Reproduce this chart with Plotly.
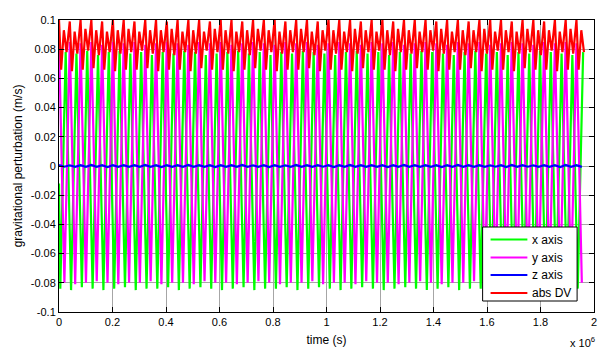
import plotly.graph_objects as go

# Orbital period of the perturbation signal (s)
PERIOD_S = 40300.0

# Per-cycle extrema of each component (m/s)
x_start = -0.012
x_min = [-0.084, -0.085, -0.083, -0.084, -0.085, -0.084, -0.083, -0.085, -0.084, -0.084,
         -0.083, -0.085, -0.084, -0.083, -0.084, -0.085, -0.084, -0.083, -0.085, -0.084,
         -0.084, -0.083, -0.085, -0.084, -0.083, -0.084, -0.085, -0.084, -0.083, -0.084,
         -0.085, -0.084, -0.083, -0.084, -0.085, -0.084, -0.083, -0.085, -0.084, -0.084,
         -0.083, -0.085, -0.084, -0.083, -0.084, -0.085, -0.084, -0.083, -0.084]
x_max = [0.078, 0.077, 0.079, 0.076, 0.078, 0.079, 0.077, 0.078, 0.076, 0.078,
         0.077, 0.079, 0.078, 0.076, 0.077, 0.078, 0.079, 0.077, 0.078, 0.076,
         0.078, 0.077, 0.079, 0.078, 0.077, 0.076, 0.078, 0.079, 0.077, 0.078,
         0.076, 0.078, 0.077, 0.079, 0.078, 0.077, 0.076, 0.078, 0.079, 0.077,
         0.078, 0.076, 0.078, 0.077, 0.079, 0.078, 0.077, 0.076, 0.078]

y_max = [0.086, 0.085, 0.084, 0.085, 0.083, 0.085, 0.084, 0.085, 0.083, 0.084,
         0.085, 0.084, 0.083, 0.085, 0.084, 0.085, 0.083, 0.084, 0.085, 0.084,
         0.083, 0.085, 0.084, 0.085, 0.083, 0.084, 0.085, 0.084, 0.083, 0.085,
         0.084, 0.085, 0.083, 0.084, 0.085, 0.084, 0.083, 0.085, 0.084, 0.085,
         0.083, 0.084, 0.085, 0.084, 0.083, 0.085, 0.084, 0.085, 0.084]
y_min = [-0.080, -0.081, -0.080, -0.079, -0.080, -0.081, -0.080, -0.080, -0.079, -0.081,
         -0.080, -0.080, -0.081, -0.079, -0.080, -0.080, -0.081, -0.080, -0.079, -0.080,
         -0.081, -0.080, -0.080, -0.079, -0.081, -0.080, -0.080, -0.081, -0.079, -0.080,
         -0.080, -0.081, -0.080, -0.079, -0.080, -0.081, -0.080, -0.080, -0.079, -0.081,
         -0.080, -0.080, -0.081, -0.079, -0.080, -0.080, -0.081, -0.080, -0.080]

z_hi = [0.0006, 0.0005, 0.0006, 0.0007, 0.0005, 0.0006, 0.0006, 0.0005, 0.0007, 0.0006,
        0.0005, 0.0006, 0.0007, 0.0006, 0.0005, 0.0006, 0.0006, 0.0007, 0.0005, 0.0006,
        0.0006, 0.0005, 0.0007, 0.0006, 0.0006, 0.0005, 0.0006, 0.0007, 0.0006, 0.0005,
        0.0006, 0.0006, 0.0007, 0.0005, 0.0006, 0.0006, 0.0005, 0.0007, 0.0006, 0.0006,
        0.0005, 0.0006, 0.0007, 0.0006, 0.0005, 0.0006, 0.0006, 0.0007, 0.0006]
z_lo = [-0.0005, -0.0006, -0.0005, -0.0006, -0.0007, -0.0005, -0.0006, -0.0006, -0.0005, -0.0007,
        -0.0006, -0.0005, -0.0006, -0.0006, -0.0007, -0.0005, -0.0006, -0.0005, -0.0006, -0.0007,
        -0.0006, -0.0005, -0.0006, -0.0006, -0.0005, -0.0007, -0.0006, -0.0005, -0.0006, -0.0006,
        -0.0007, -0.0005, -0.0006, -0.0006, -0.0005, -0.0007, -0.0006, -0.0005, -0.0006, -0.0006,
        -0.0005, -0.0007, -0.0006, -0.0005, -0.0006, -0.0006, -0.0007, -0.0005, -0.0006]

dv_peak = [0.100, 0.099, 0.100, 0.100, 0.099, 0.100, 0.100, 0.099, 0.100, 0.100,
           0.099, 0.100, 0.100, 0.100, 0.099, 0.100, 0.100, 0.099, 0.100, 0.100,
           0.100, 0.099, 0.100, 0.100, 0.099, 0.100, 0.100, 0.100, 0.099, 0.100,
           0.100, 0.099, 0.100, 0.100, 0.100, 0.099, 0.100, 0.100, 0.099, 0.100,
           0.100, 0.100, 0.099, 0.100, 0.100, 0.099, 0.100, 0.100, 0.100]
dv_low1 = [0.066, 0.065, 0.066, 0.067, 0.066, 0.065, 0.066, 0.066, 0.067, 0.065,
           0.066, 0.066, 0.065, 0.067, 0.066, 0.066, 0.065, 0.066, 0.067, 0.066,
           0.065, 0.066, 0.066, 0.067, 0.065, 0.066, 0.066, 0.065, 0.067, 0.066,
           0.066, 0.065, 0.066, 0.067, 0.066, 0.065, 0.066, 0.066, 0.067, 0.065,
           0.066, 0.066, 0.065, 0.067, 0.066, 0.066, 0.065, 0.066, 0.066]
dv_sub = [0.093, 0.092, 0.094, 0.093, 0.092, 0.093, 0.094, 0.092, 0.093, 0.093,
          0.094, 0.092, 0.093, 0.092, 0.094, 0.093, 0.092, 0.093, 0.094, 0.093,
          0.092, 0.093, 0.094, 0.092, 0.093, 0.093, 0.092, 0.094, 0.093, 0.092,
          0.093, 0.094, 0.093, 0.092, 0.093, 0.094, 0.092, 0.093, 0.093, 0.094,
          0.092, 0.093, 0.092, 0.094, 0.093, 0.093, 0.092, 0.094, 0.093]
dv_low2 = [0.078, 0.077, 0.079, 0.076, 0.078, 0.077, 0.078, 0.079, 0.077, 0.078,
           0.076, 0.078, 0.077, 0.079, 0.078, 0.077, 0.078, 0.076, 0.079, 0.078,
           0.077, 0.078, 0.078, 0.076, 0.079, 0.077, 0.078, 0.077, 0.078, 0.079,
           0.076, 0.078, 0.077, 0.078, 0.079, 0.077, 0.078, 0.076, 0.078, 0.077,
           0.079, 0.078, 0.077, 0.078, 0.076, 0.079, 0.078, 0.077, 0.078]

x_tick_vals = [0, 2e5, 4e5, 6e5, 8e5, 1e6, 1.2e6, 1.4e6, 1.6e6, 1.8e6, 2e6]
x_tick_text = ["0", "0.2", "0.4", "0.6", "0.8", "1", "1.2", "1.4", "1.6", "1.8", "2"]
y_tick_vals = [-0.1, -0.08, -0.06, -0.04, -0.02, 0, 0.02, 0.04, 0.06, 0.08, 0.1]
y_tick_text = ["-0.1", "-0.08", "-0.06", "-0.04", "-0.02", "0", "0.02", "0.04", "0.06", "0.08", "0.1"]


def cycle_trace(pattern, start=None):
    """Join per-cycle extrema into one polyline; pattern = [(phase, values), ...]."""
    t, v = [], []
    if start is not None:
        t.append(0.0)
        v.append(start)
    n = len(pattern[0][1])
    for k in range(n):
        for phase, vals in pattern:
            t.append((k + phase) * PERIOD_S)
            v.append(vals[k])
    return t, v


FONT = "Liberation Sans, Arial, sans-serif"
W, H = 599, 355
M_L, M_R, M_T, M_B = 59, 2, 20, 43
PLOT_W = W - M_L - M_R
PLOT_H = H - M_T - M_B


def px_to_paper(px, py):
    return (px - M_L) / PLOT_W, (H - M_B - py) / PLOT_H


series = [
    ("x axis", "#00ff00", cycle_trace([(0.12, x_min), (0.62, x_max)], start=x_start)),
    ("y axis", "#ff00ff", cycle_trace([(0.0, y_max), (0.5, y_min)])),
    ("z axis", "#0000ff", cycle_trace([(0.0, z_hi), (0.5, z_lo)])),
    ("abs DV", "#ff0000", cycle_trace([(0.0, dv_peak), (0.2, dv_low1),
                                       (0.45, dv_sub), (0.7, dv_low2)])),
]

fig = go.Figure()
for name, color, (t, v) in series:
    fig.add_trace(go.Scatter(x=t, y=v, mode="lines", name=name,
                             line=dict(color=color, width=2.2)))

axis_common = dict(
    showline=True, linecolor="black", linewidth=1, mirror="allticks",
    ticks="inside", ticklen=5, tickcolor="black",
    showgrid=True, gridcolor="#a6a6a6", gridwidth=1, zeroline=False,
    tickfont=dict(family=FONT, size=11, color="black"),
    ticklabeloverflow="allow",
)

fig.update_xaxes(range=[0, 2e6], tickvals=x_tick_vals, ticktext=x_tick_text,
                 title=dict(text="time (s)", font=dict(family=FONT, size=12, color="black"),
                            standoff=8),
                 **axis_common)
fig.update_yaxes(range=[-0.1, 0.1], tickvals=y_tick_vals, ticktext=y_tick_text,
                 title=dict(text="gravitational perturbation (m/s)",
                            font=dict(family=FONT, size=12, color="black"), standoff=5),
                 **axis_common)

fig.add_annotation(text="x 10<sup>6</sup>", xref="paper", yref="paper",
                   x=1.005, y=-0.134, xanchor="right", yanchor="bottom", showarrow=False,
                   font=dict(family=FONT, size=11, color="black"))

# Legend box drawn by hand (MATLAB-style compact rows)
bx0, by0 = px_to_paper(485, 301)
bx1, by1 = px_to_paper(580, 227)
fig.add_shape(type="rect", xref="paper", yref="paper", x0=bx0, y0=by0, x1=bx1, y1=by1,
              line=dict(color="black", width=1), fillcolor="white", layer="above")
row_py = [239.5, 257.5, 275, 293]
for (name, color, _), py in zip(series, row_py):
    lx0, ly = px_to_paper(493, py)
    lx1, _ = px_to_paper(530, py)
    tx, _ = px_to_paper(533, py)
    fig.add_shape(type="line", xref="paper", yref="paper", x0=lx0, y0=ly, x1=lx1, y1=ly,
                  line=dict(color=color, width=2), layer="above")
    fig.add_annotation(text=name, xref="paper", yref="paper", x=tx, y=ly,
                       xanchor="left", yanchor="middle", showarrow=False,
                       font=dict(family=FONT, size=12, color="black"))

fig.update_layout(
    width=W, height=H,
    margin=dict(l=M_L, r=M_R, t=M_T, b=M_B),
    plot_bgcolor="white", paper_bgcolor="white",
    showlegend=False,
)

fig.write_html("out.html")
